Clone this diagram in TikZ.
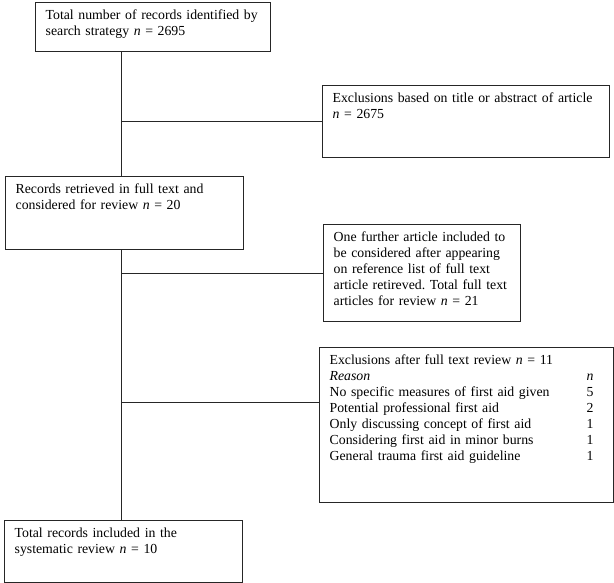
\documentclass[tikz,border=0pt]{standalone}
\usepackage{fontspec}
\setmainfont{Liberation Serif}
\frenchspacing
\begin{document}
\begin{tikzpicture}[x=1pt, y=-1pt,
    box/.style={draw=black!85, line width=1.3pt, anchor=north west, align=left,
      inner xsep=10pt, inner ysep=6pt, text height=11pt,
      font=\fontsize{13.8pt}{16pt}\selectfont},
    link/.style={draw=black!85, line width=0.9pt}]
  \useasboundingbox (0,0) rectangle (614,583);
  \coordinate (trunk) at (121,0);
  \coordinate (fork) at (121,402);
  \node[box, text width=215pt, text depth=26pt] (total) at (35,2)
    {Total number of records identified by\\search strategy \textit{n} = 2695};
  \node[box, text width=267pt, text depth=49pt] (screened) at (322,85)
    {Exclusions based on title or abstract of article\\\textit{n} = 2675};
  \node[box, text width=218pt, text depth=50pt] (retrieved) at (5,176)
    {Records retrieved in full text and\\considered for review \textit{n} = 20};
  \node[box, text width=177pt, text depth=74pt] (further) at (323,224)
    {One further article included to\\be considered after appearing\\on reference list of full text\\article retireved. Total full text\\articles for review \textit{n} = 21};
  \node[box, text width=274pt, text depth=132pt] (fulltext) at (319,347)
    {\begin{tabular}[t]{@{}p{245pt}c@{}}
      \multicolumn{2}{@{}l@{}}{Exclusions after full text review \textit{n} = 11}\\
      \textit{Reason} & \textit{n}\\
      No specific measures of first aid given & 5\\
      Potential professional first aid & 2\\
      Only discussing concept of first aid & 1\\
      Considering first aid in minor burns & 1\\
      General trauma first aid guideline & 1
    \end{tabular}};
  \node[box, text width=218pt, text depth=39pt] (included) at (4,520)
    {Total records included in the\\systematic review \textit{n} = 10};
  \draw[link] (total.south -| trunk) -- (retrieved.north -| trunk);
  \draw[link] (retrieved.south -| trunk) -- (included.north -| trunk);
  \draw[link] (trunk |- screened.west) -- (screened.west);
  \draw[link] (trunk |- further.west) -- (further.west);
  \draw[link] (fork) -- (fork -| fulltext.west);
\end{tikzpicture}
\end{document}
